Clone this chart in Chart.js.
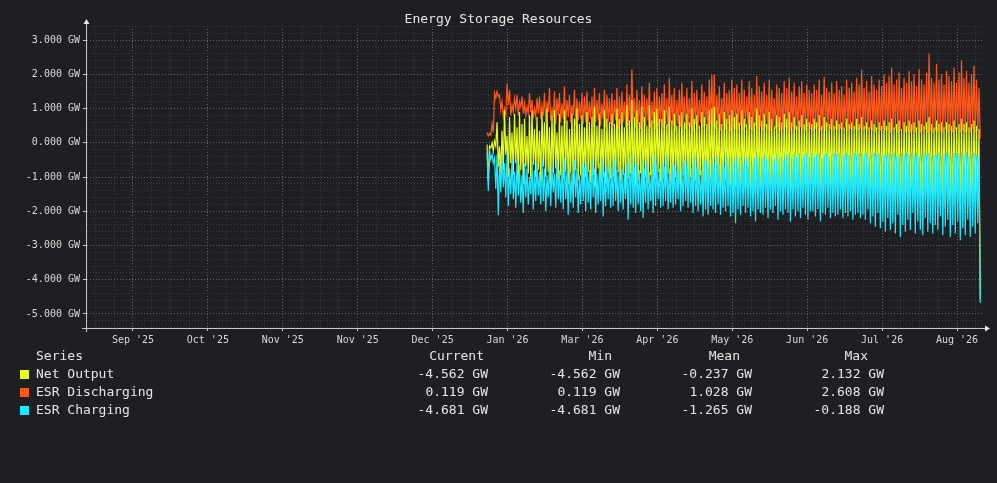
<!DOCTYPE html>
<html>
<head>
<meta charset="utf-8">
<script src="https://cdn.jsdelivr.net/npm/chart.js@4.4.1/dist/chart.umd.min.js"></script>
<style>
  html, body { margin: 0; padding: 0; background: #1e1f22; }
  #wrap { position: relative; width: 997px; height: 483px; background: #1e1f22; font-family: 'DejaVu Sans Mono', monospace; color: #e6e6e6; }
  #graph { position: absolute; left: 0; top: 0; }
  .t { position: absolute; font-size: 13px; line-height: 18px; white-space: pre; }
  .r { text-align: right; width: 120px; }
  .sw { position: absolute; width: 9px; height: 9px; }
</style>
</head>
<body>
<div id="wrap">
  <canvas id="graph" width="997" height="483"></canvas>
  <div class="t" style="left:0;width:997px;text-align:center;top:10px;">Energy Storage Resources</div>
  <div id="legend"></div>
</div>
<script>
// x positions are in days, 0 = the "Sep '25" grid line, one label every 30 days
const xTickLabels = ["Sep '25", "Oct '25", "Nov '25", "Nov '25", "Dec '25", "Jan '26",
                     "Mar '26", "Apr '26", "May '26", "Jun '26", "Jul '26", "Aug '26"];
const dataStart = 141.8; // first sample, just before Jan '26

// one entry per day: daily peak / daily trough of each series (GW)
const dischargePeak = [
  0.30, 0.28, 0.55, 1.45, 1.50, 1.40, 1.20, 1.00, 1.72, 1.55,
  1.10, 1.30, 1.40, 1.20, 1.35, 1.15, 1.05, 1.45, 1.25, 1.00,
  1.30, 1.35, 1.10, 1.45, 1.20, 1.60, 1.00, 1.50, 1.30, 1.45,
  1.15, 1.65, 1.25, 1.40, 1.10, 1.55, 1.30, 1.20, 1.45, 1.35,
  1.50, 1.20, 1.35, 1.60, 1.25, 1.45, 1.15, 1.55, 1.40, 1.30,
  1.45, 1.25, 1.60, 1.35, 1.50, 1.20, 1.70, 1.40, 2.15, 1.30,
  1.55, 1.25, 1.65, 1.40, 1.30, 1.75, 1.20, 1.50, 1.60, 1.35,
  1.45, 1.70, 1.30, 1.90, 1.40, 1.60, 1.25, 1.55, 1.75, 1.35,
  1.60, 1.30, 1.80, 1.45, 1.55, 1.25, 1.70, 1.50, 1.35, 1.85,
  1.98, 2.00, 1.40, 1.65, 1.30, 1.75, 1.45, 1.55, 1.85, 1.60,
  1.70, 1.45, 1.85, 1.55, 1.35, 1.80, 1.60, 1.40, 1.95, 1.65,
  1.50, 1.75, 1.40, 1.85, 1.55, 1.30, 1.70, 1.60, 1.45, 1.80,
  1.60, 1.90, 1.50, 1.75, 1.35, 1.65, 1.80, 1.45, 1.70, 1.55,
  1.45, 1.70, 1.55, 1.85, 1.40, 1.93, 1.60, 1.50, 1.75, 1.45,
  1.80, 1.55, 1.65, 1.40, 1.85, 1.60, 1.75, 1.50, 1.90, 1.70,
  2.13, 1.60, 1.80, 1.50, 1.95, 1.70, 1.55, 1.85, 1.65, 2.00,
  1.75, 1.95, 2.20, 1.70, 1.85, 2.05, 1.60, 1.90, 1.75, 2.10,
  1.80, 2.00, 1.65, 2.15, 1.85, 1.70, 2.05, 2.61, 1.90, 1.75,
  2.30, 1.85, 2.00, 1.70, 2.10, 1.95, 1.80, 2.20, 1.75, 2.05,
  2.40, 1.90, 2.10, 1.75, 2.00, 2.25, 1.85, 1.60
];
const dischargeLow = [
  0.20, 0.22, 0.30, 1.30, 1.35, 0.95, 0.75, 0.85, 1.10, 0.80,
  0.90, 1.00, 0.80, 1.05, 0.85, 0.80, 0.85, 0.90, 0.70, 0.75,
  0.85, 0.70, 0.80, 0.60, 0.90, 0.65, 0.75, 0.55, 0.80, 0.60,
  0.70, 0.55, 0.75, 0.60, 0.80, 0.50, 0.65, 0.70, 0.55, 0.60,
  0.55, 0.70, 0.45, 0.60, 0.65, 0.50, 0.70, 0.45, 0.60, 0.55,
  0.50, 0.65, 0.40, 0.55, 0.60, 0.45, 0.50, 0.60, 0.70, 0.45,
  0.55, 0.40, 0.60, 0.50, 0.65, 0.45, 0.55, 0.40, 0.50, 0.60,
  0.45, 0.55, 0.40, 0.60, 0.50, 0.35, 0.55, 0.45, 0.60, 0.40,
  0.50, 0.45, 0.35, 0.55, 0.40, 0.60, 0.45, 0.50, 0.35, 0.55,
  0.45, 0.40, 0.55, 0.35, 0.50, 0.40, 0.55, 0.35, 0.45, 0.40,
  0.40, 0.50, 0.35, 0.45, 0.55, 0.40, 0.35, 0.50, 0.40, 0.45,
  0.35, 0.45, 0.40, 0.35, 0.50, 0.40, 0.45, 0.35, 0.40, 0.45,
  0.40, 0.35, 0.45, 0.40, 0.35, 0.45, 0.40, 0.35, 0.45, 0.40,
  0.35, 0.40, 0.45, 0.35, 0.40, 0.35, 0.45, 0.40, 0.35, 0.40,
  0.35, 0.40, 0.35, 0.45, 0.35, 0.40, 0.35, 0.40, 0.35, 0.40,
  0.35, 0.40, 0.35, 0.40, 0.35, 0.30, 0.40, 0.35, 0.40, 0.35,
  0.35, 0.30, 0.35, 0.40, 0.30, 0.35, 0.40, 0.30, 0.35, 0.30,
  0.35, 0.30, 0.40, 0.30, 0.35, 0.40, 0.30, 0.35, 0.30, 0.35,
  0.30, 0.35, 0.30, 0.40, 0.30, 0.35, 0.30, 0.35, 0.40, 0.30,
  0.35, 0.30, 0.35, 0.30, 0.40, 0.30, 0.35, 0.119
];
const netHigh = [
  -0.05, -0.10, 0.00, 0.05, 0.60, -0.10, 0.35, 0.95, 0.20, 0.75,
  0.30, 0.85, 0.45, 0.90, 0.55, 0.70, 0.20, 0.80, 0.95, 0.40,
  0.75, 0.35, 0.90, 0.60, 1.00, 0.45, 0.80, 0.95, 0.30, 0.85,
  0.50, 0.95, 0.65, 0.40, 0.85, 0.70, 1.00, 0.55, 0.80, 0.45,
  0.90, 0.60, 0.75, 1.05, 0.50, 0.85, 0.40, 0.95, 0.70, 0.60,
  0.85, 0.55, 1.00, 0.70, 0.90, 0.45, 1.10, 0.65, 1.25, 0.75,
  0.95, 0.60, 1.05, 0.75, 0.50, 1.10, 0.65, 0.90, 1.00, 0.70,
  0.70, 0.95, 0.55, 1.05, 0.65, 0.85, 0.50, 0.80, 0.90, 0.60,
  0.85, 0.60, 1.00, 0.70, 0.80, 0.50, 0.90, 0.75, 0.55, 0.95,
  1.00, 1.05, 0.65, 0.85, 0.55, 0.90, 0.70, 0.80, 0.95, 0.75,
  0.85, 0.60, 0.95, 0.70, 0.55, 0.90, 0.75, 0.60, 1.00, 0.80,
  0.65, 0.85, 0.55, 0.90, 0.70, 0.50, 0.80, 0.75, 0.60, 0.85,
  0.70, 0.90, 0.60, 0.75, 0.50, 0.65, 0.80, 0.55, 0.70, 0.60,
  0.55, 0.70, 0.60, 0.80, 0.50, 0.75, 0.60, 0.55, 0.70, 0.50,
  0.65, 0.55, 0.60, 0.45, 0.70, 0.55, 0.60, 0.50, 0.70, 0.55,
  0.75, 0.50, 0.60, 0.45, 0.65, 0.55, 0.45, 0.60, 0.50, 0.65,
  0.50, 0.60, 0.70, 0.45, 0.55, 0.65, 0.40, 0.60, 0.50, 0.65,
  0.55, 0.60, 0.45, 0.65, 0.55, 0.50, 0.60, 0.75, 0.55, 0.45,
  0.65, 0.55, 0.60, 0.45, 0.60, 0.55, 0.50, 0.65, 0.45, 0.55,
  0.70, 0.55, 0.60, 0.45, 0.55, 0.65, 0.50, 0.40
];
const netLow = [
  -1.15, -0.15, -0.25, -0.10, -0.70, -0.90, -0.80, -0.35, -1.00, -0.60,
  -0.95, -0.60, -1.10, -0.80, -1.20, -0.70, -0.90, -1.05, -0.65, -1.00,
  -0.80, -1.15, -0.70, -1.00, -0.85, -1.25, -0.90, -0.75, -1.10, -0.95,
  -1.05, -0.85, -1.20, -0.90, -1.30, -0.80, -1.10, -0.95, -1.25, -1.00,
  -0.85, -1.15, -0.95, -1.30, -0.75, -1.10, -1.00, -1.20, -0.90, -1.05,
  -1.00, -1.20, -0.85, -1.10, -0.95, -1.30, -1.05, -0.90, -1.15, -1.25,
  -1.10, -0.90, -1.35, -1.00, -1.20, -0.95, -1.25, -1.05, -0.85, -1.15,
  -1.05, -1.25, -0.90, -1.15, -1.30, -1.00, -1.20, -1.40, -0.95, -1.10,
  -1.20, -1.00, -1.35, -1.10, -1.25, -0.95, -1.40, -1.15, -1.30, -1.05,
  -1.15, -1.30, -1.05, -1.40, -1.20, -1.10, -1.35, -1.25, -1.45, -1.30,
  -1.25, -1.40, -1.15, -1.35, -1.20, -1.45, -1.30, -1.50, -1.25, -1.35,
  -1.40, -1.25, -1.50, -1.30, -1.45, -1.20, -1.55, -1.35, -1.40, -1.30,
  -1.35, -1.55, -1.25, -1.45, -1.30, -1.50, -1.40, -1.35, -1.55, -1.30,
  -1.40, -1.30, -1.55, -1.60, -1.35, -1.45, -1.50, -1.30, -1.45, -1.55,
  -1.45, -1.60, -1.40, -1.55, -1.50, -1.65, -1.45, -1.60, -1.50, -1.70,
  -1.35, -1.50, -1.40, -1.60, -1.45, -1.65, -1.40, -1.70, -1.50, -1.60,
  -1.55, -1.70, -1.60, -1.75, -1.50, -1.80, -1.60, -1.70, -1.55, -1.75,
  -1.60, -1.80, -1.50, -1.70, -1.85, -1.60, -1.75, -1.65, -1.80, -1.55,
  -1.70, -1.85, -1.60, -1.90, -1.75, -1.65, -1.85, -1.80, -1.70, -1.95,
  -1.75, -1.60, -1.85, -1.70, -1.90, -1.65, -1.80, -4.562
];
const chargeHigh = [
  -0.30, -0.19, -0.35, -0.45, -0.35, -0.55, -0.40, -0.60, -0.30, -0.75,
  -0.45, -0.85, -0.50, -0.65, -0.95, -0.60, -0.75, -1.00, -0.55, -0.80,
  -0.60, -0.85, -0.45, -0.75, -0.95, -0.55, -0.70, -0.90, -0.50, -0.80,
  -0.70, -0.45, -0.85, -0.60, -0.90, -0.50, -0.75, -0.95, -0.55, -0.70,
  -0.55, -0.80, -0.45, -0.75, -0.90, -0.60, -0.40, -0.85, -0.65, -0.50,
  -0.70, -0.45, -0.80, -0.55, -0.75, -0.90, -0.60, -0.45, -0.35, -0.70,
  -0.60, -0.80, -0.45, -0.75, -0.55, -0.85, -0.65, -0.40, -0.60, -0.75,
  -0.50, -0.70, -0.40, -0.75, -0.55, -0.65, -0.80, -0.45, -0.70, -0.50,
  -0.65, -0.45, -0.75, -0.40, -0.70, -0.55, -0.80, -0.50, -0.60, -0.45,
  -0.45, -0.65, -0.40, -0.60, -0.50, -0.70, -0.40, -0.55, -0.45, -0.60,
  -0.40, -0.55, -0.35, -0.60, -0.45, -0.40, -0.65, -0.45, -0.35, -0.50,
  -0.45, -0.35, -0.50, -0.40, -0.45, -0.55, -0.35, -0.45, -0.40, -0.50,
  -0.35, -0.30, -0.45, -0.35, -0.40, -0.30, -0.45, -0.35, -0.30, -0.40,
  -0.30, -0.40, -0.35, -0.30, -0.45, -0.35, -0.30, -0.40, -0.35, -0.30,
  -0.35, -0.30, -0.40, -0.35, -0.30, -0.35, -0.40, -0.30, -0.35, -0.30,
  -0.30, -0.35, -0.30, -0.40, -0.35, -0.30, -0.35, -0.30, -0.40, -0.35,
  -0.35, -0.30, -0.35, -0.30, -0.40, -0.35, -0.30, -0.35, -0.30, -0.35,
  -0.30, -0.35, -0.30, -0.40, -0.35, -0.30, -0.35, -0.30, -0.40, -0.35,
  -0.35, -0.30, -0.40, -0.35, -0.30, -0.35, -0.40, -0.30, -0.35, -0.30,
  -0.30, -0.35, -0.30, -0.40, -0.35, -0.30, -0.35, -0.40
];
const chargeLow = [
  -1.40, -0.50, -0.60, -1.35, -2.12, -1.45, -1.30, -1.60, -1.85, -1.50,
  -1.65, -1.90, -1.55, -1.75, -2.05, -1.60, -1.80, -1.50, -1.95, -1.70,
  -1.55, -1.80, -1.70, -2.00, -1.60, -1.85, -1.45, -1.90, -1.65, -1.75,
  -1.95, -1.65, -2.10, -1.75, -1.90, -1.60, -2.05, -1.80, -1.70, -2.00,
  -1.75, -1.95, -1.60, -2.05, -1.80, -1.70, -2.15, -1.85, -1.65, -1.90,
  -1.85, -1.70, -2.00, -1.75, -1.95, -1.65, -2.25, -1.80, -1.90, -2.05,
  -1.80, -2.00, -2.20, -1.75, -1.95, -1.70, -2.05, -1.85, -1.65, -1.90,
  -1.85, -1.70, -1.95, -1.75, -1.90, -1.80, -1.65, -2.00, -1.85, -1.70,
  -1.90, -1.75, -2.05, -1.85, -2.00, -1.80, -2.15, -1.95, -2.10, -1.85,
  -1.95, -2.05, -1.80, -2.10, -1.90, -2.00, -1.85, -2.15, -2.05, -2.35,
  -1.95, -2.10, -1.85, -2.05, -1.90, -2.15, -2.00, -2.30, -1.95, -2.05,
  -2.10, -1.90, -2.20, -1.95, -2.05, -1.85, -2.25, -2.00, -2.10, -1.95,
  -2.05, -2.30, -1.95, -2.15, -2.00, -2.20, -1.90, -2.10, -2.25, -2.00,
  -2.00, -2.15, -1.95, -2.30, -2.05, -2.10, -1.90, -2.20, -2.05, -2.15,
  -2.10, -1.95, -2.20, -2.05, -2.15, -2.00, -2.25, -2.10, -2.05, -2.20,
  -2.10, -2.25, -1.95, -2.35, -2.15, -2.45, -2.05, -2.50, -2.30, -2.60,
  -2.20, -2.55, -2.35, -2.65, -2.10, -2.75, -2.40, -2.60, -2.25, -2.55,
  -2.05, -2.65, -2.30, -2.55, -2.70, -2.20, -2.60, -2.35, -2.65, -2.40,
  -2.55, -2.15, -2.70, -2.45, -2.25, -2.75, -2.40, -2.65, -2.30, -2.85,
  -2.50, -2.70, -2.25, -2.75, -2.45, -2.65, -2.35, -4.681
];

// legend table values
const seriesNames = ['Net Output', 'ESR Discharging', 'ESR Charging'];
const seriesColors = ['#e4ff1e', '#ff5719', '#1ee8ff'];
const statCurrent = ['-4.562 GW', '0.119 GW', '-4.681 GW'];
const statMin = ['-4.562 GW', '0.119 GW', '-4.681 GW'];
const statMean = ['-0.237 GW', '1.028 GW', '-1.265 GW'];
const statMax = ['2.132 GW', '2.608 GW', '-0.188 GW'];

// peak at the start of each day, trough half a day later
function dailyPoints(peaks, troughs) {
  const pts = [];
  peaks.forEach((v, i) => {
    pts.push({ x: dataStart + i, y: v });
    pts.push({ x: dataStart + i + 0.5, y: troughs[i] });
  });
  return pts;
}

// grid: minor every 7.5 days / 0.2 GW, major every 30 days / 1 GW
const X_MIN = -18.8, X_MAX = 340.4;
const xGrid = [];
for (let k = -2; k * 7.5 <= X_MAX; k++) xGrid.push(k * 7.5);
const yGrid = [];
for (let k = -27; k <= 17; k++) yGrid.push(k / 5);

const MAJOR = 'rgba(112,112,112,0.9)';
const MINOR = 'rgba(62,62,62,0.9)';
const isMajorX = v => Math.abs(v / 30 - Math.round(v / 30)) < 1e-6;
const isMajorY = v => Math.abs(v - Math.round(v)) < 1e-6;

const arrows = {
  id: 'arrows',
  afterDraw(chart) {
    const c = chart.ctx, a = chart.chartArea;
    c.save();
    c.strokeStyle = '#c8c8c8';
    c.fillStyle = '#e8e8e8';
    c.lineWidth = 1;
    c.beginPath();
    c.moveTo(a.left + 0.5, a.top); c.lineTo(a.left + 0.5, a.top - 4);
    c.moveTo(a.left + 0.5, a.bottom); c.lineTo(a.left + 0.5, a.bottom + 4);
    c.moveTo(a.right, a.bottom + 0.5); c.lineTo(a.right + 3, a.bottom + 0.5);
    c.moveTo(a.left, a.bottom + 0.5); c.lineTo(a.left - 4, a.bottom + 0.5);
    c.stroke();
    c.beginPath();
    c.moveTo(a.left + 0.5, a.top - 7); c.lineTo(a.left - 2.5, a.top - 2); c.lineTo(a.left + 3.5, a.top - 2);
    c.closePath(); c.fill();
    c.beginPath();
    c.moveTo(a.right + 7, a.bottom + 0.5); c.lineTo(a.right + 2, a.bottom - 2.5); c.lineTo(a.right + 2, a.bottom + 3.5);
    c.closePath(); c.fill();
    c.restore();
  }
};

Chart.defaults.font.family = "'DejaVu Sans Mono', monospace";
Chart.defaults.font.size = 10;

// draw order: discharging at the back, net output over it, charging on top
const ctx = document.getElementById('graph').getContext('2d');
new Chart(ctx, {
  type: 'line',
  data: {
    datasets: [{
      label: seriesNames[0],
      data: dailyPoints(netHigh, netLow),
      borderColor: seriesColors[0],
      order: 2
    }, {
      label: seriesNames[1],
      data: dailyPoints(dischargePeak, dischargeLow),
      borderColor: seriesColors[1],
      order: 3
    }, {
      label: seriesNames[2],
      data: dailyPoints(chargeHigh, chargeLow),
      borderColor: seriesColors[2],
      order: 1
    }]
  },
  options: {
    responsive: false,
    animation: false,
    layout: { padding: { left: 0, right: 14, top: 26, bottom: 0 } },
    elements: {
      line: { borderWidth: 1.2, tension: 0 },
      point: { radius: 0 }
    },
    scales: {
      x: {
        type: 'linear',
        min: X_MIN,
        max: X_MAX,
        afterBuildTicks: axis => { axis.ticks = xGrid.map(v => ({ value: v })); },
        afterFit: axis => { axis.height = 155; },
        ticks: {
          autoSkip: false,
          maxRotation: 0,
          color: '#d8d8d8',
          padding: 3,
          callback: v => isMajorX(v) ? xTickLabels[Math.round(v / 30)] : ''
        },
        grid: {
          color: c => isMajorX(c.tick.value) ? MAJOR : MINOR,
          tickColor: c => isMajorX(c.tick.value) ? '#c8c8c8' : 'rgba(0,0,0,0)',
          tickLength: 3
        },
        border: { color: '#c8c8c8', dash: [1, 2] }
      },
      y: {
        min: -5.41,
        max: 3.41,
        afterBuildTicks: axis => { axis.ticks = yGrid.map(v => ({ value: v })); },
        afterFit: axis => { axis.width = 86; },
        ticks: {
          autoSkip: false,
          color: '#d8d8d8',
          padding: 3,
          callback: v => isMajorY(v) ? v.toFixed(3) + ' GW' : ''
        },
        grid: {
          color: c => isMajorY(c.tick.value) ? MAJOR : MINOR,
          tickColor: c => isMajorY(c.tick.value) ? '#c8c8c8' : 'rgba(0,0,0,0)',
          tickLength: 3
        },
        border: { color: '#c8c8c8', dash: [1, 2] }
      }
    },
    plugins: {
      legend: { display: false },
      tooltip: { enabled: false },
      title: { display: false }
    }
  },
  plugins: [arrows]
});

// legend table below the plot
const legend = document.getElementById('legend');
function addText(text, left, top, right) {
  const d = document.createElement('div');
  d.className = right ? 't r' : 't';
  d.textContent = text;
  d.style.left = (right ? left - 120 : left) + 'px';
  d.style.top = top + 'px';
  legend.appendChild(d);
}
const rowTop = [365, 383, 401];
addText('Series', 36, 347);
addText('Current', 484, 347, true);
addText('Min', 612, 347, true);
addText('Mean', 740, 347, true);
addText('Max', 868, 347, true);
seriesNames.forEach((name, i) => {
  const sw = document.createElement('div');
  sw.className = 'sw';
  sw.style.left = '20px';
  sw.style.top = (rowTop[i] + 5) + 'px';
  sw.style.background = seriesColors[i];
  legend.appendChild(sw);
  addText(name, 36, rowTop[i]);
  addText(statCurrent[i], 488, rowTop[i], true);
  addText(statMin[i], 620, rowTop[i], true);
  addText(statMean[i], 752, rowTop[i], true);
  addText(statMax[i], 884, rowTop[i], true);
});
</script>
</body>
</html>
